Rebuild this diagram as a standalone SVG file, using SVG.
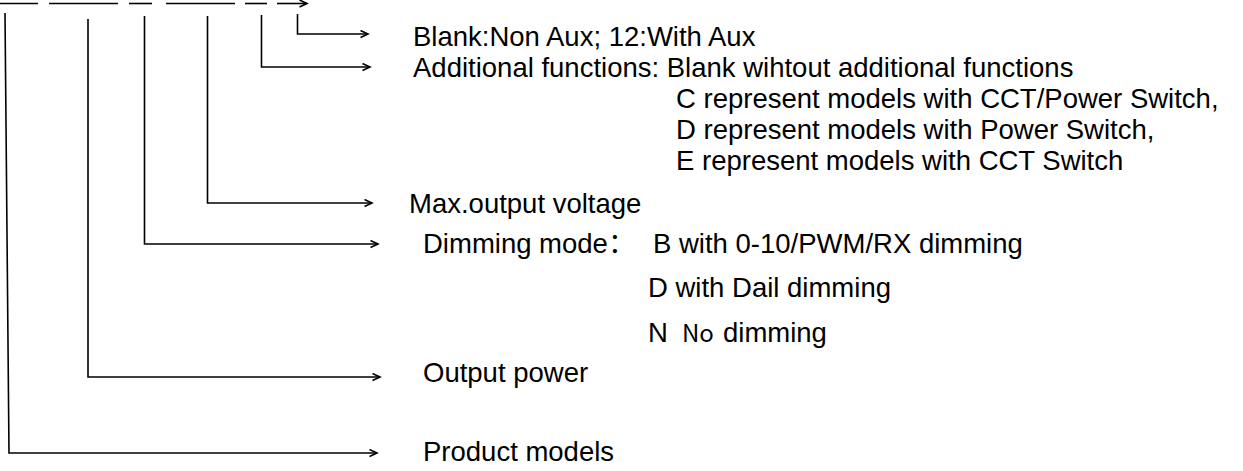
<svg xmlns="http://www.w3.org/2000/svg" width="1243" height="471" viewBox="0 0 1243 471">
<style>
.ln{stroke:#000;stroke-width:1.6;fill:none}
.t{font-family:"Liberation Sans",Arial,sans-serif;font-size:27.5px;fill:#000}
</style>
<defs>
<marker id="arr" markerWidth="10" markerHeight="10" refX="8" refY="4" orient="auto" markerUnits="userSpaceOnUse">
<path d="M0.5,0.5 L8,4 L0.5,7.5" stroke="#000" stroke-width="1.6" fill="none"/>
</marker>
</defs>
<rect width="1243" height="471" fill="#fff"/>
<g id="code">
<line class="ln" x1="0" y1="3.5" x2="38" y2="3.5"/>
<line class="ln" x1="49" y1="3.5" x2="118" y2="3.5"/>
<line class="ln" x1="129" y1="3.5" x2="152" y2="3.5"/>
<line class="ln" x1="166" y1="3.5" x2="235" y2="3.5"/>
<line class="ln" x1="245" y1="3.5" x2="267" y2="3.5"/>
<line class="ln" x1="277" y1="3.5" x2="307" y2="3.5" marker-end="url(#arr)"/>
</g>
<g id="connectors">
<polyline class="ln" points="297.5,14 297.5,34 368,34" marker-end="url(#arr)"/>
<polyline class="ln" points="261.5,15 261.5,67 370,67" marker-end="url(#arr)"/>
<polyline class="ln" points="207.5,16 207.5,203 372,203" marker-end="url(#arr)"/>
<polyline class="ln" points="144.5,16 144.5,244 378,244" marker-end="url(#arr)"/>
<polyline class="ln" points="88,19 88,377 380,377" marker-end="url(#arr)"/>
<polyline class="ln" points="5,13 9,453 377,453" marker-end="url(#arr)"/>
</g>
<g id="aux"><text class="t" x="413" y="46">Blank:Non Aux; 12:With Aux</text></g>
<g id="additional">
<text class="t" x="413" y="77">Additional functions: Blank wihtout additional functions</text>
<text class="t" x="676" y="108">C represent models with CCT/Power Switch,</text>
<text class="t" x="676" y="139">D represent models with Power Switch,</text>
<text class="t" x="676" y="170">E represent models with CCT Switch</text>
</g>
<g id="voltage"><text class="t" x="409" y="213">Max.output voltage</text></g>
<g id="dimming">
<text class="t" x="423" y="253">Dimming mode<tspan font-family="'Noto Sans CJK SC',sans-serif">：</tspan><tspan x="653">B with 0-10/PWM/RX dimming</tspan></text>
<text class="t" x="648" y="297">D with Dail dimming</text>
<text class="t" x="648" y="342">N<tspan x="682" font-size="24px" font-family="'Noto Sans CJK SC',sans-serif">No</tspan><tspan x="723">dimming</tspan></text>
</g>
<g id="power"><text class="t" x="423" y="382">Output power</text></g>
<g id="models"><text class="t" x="423" y="461">Product models</text></g>
</svg>
